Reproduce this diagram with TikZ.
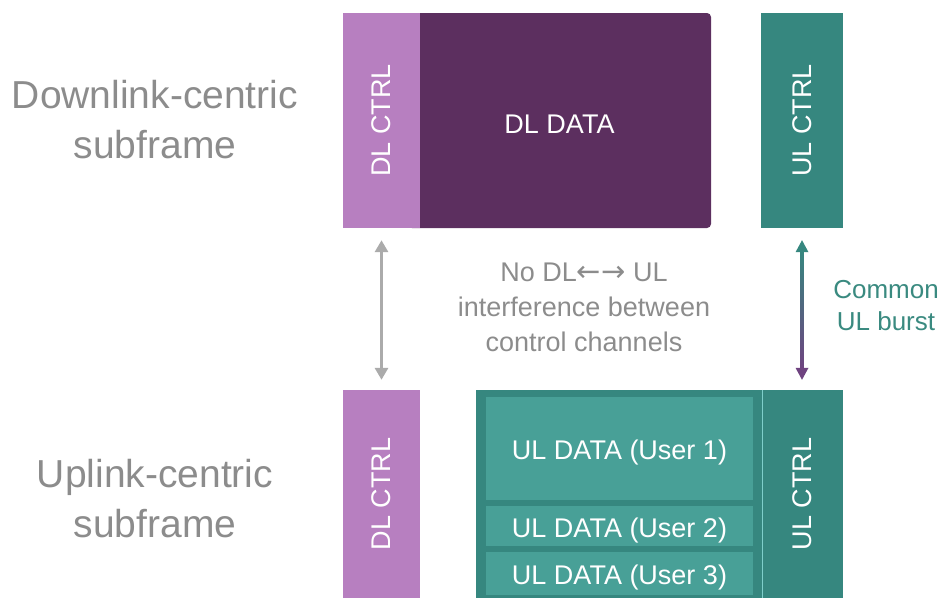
\documentclass[tikz,border=0pt]{standalone}
\usepackage{fontspec}
\setmainfont{Liberation Sans}
\newfontfamily\arrowfont{DejaVu Sans}
\usetikzlibrary{arrows.meta}
\definecolor{dlctrl}{HTML}{B77FC0}
\definecolor{dldata}{HTML}{5C2F5F}
\definecolor{ulctrl}{HTML}{36877F}
\definecolor{uldata}{HTML}{48A097}
\definecolor{ulline}{HTML}{7FCFCB}
\definecolor{txtgray}{HTML}{8C8C8C}
\definecolor{arrgray}{HTML}{ABABAB}
\definecolor{txtteal}{HTML}{3A8A80}
\definecolor{arrpurple}{HTML}{6F4380}
\newcommand{\lowtext}[1]{\raisebox{-4pt}[\height][\depth]{#1}}

\begin{document}
\begin{tikzpicture}[x=1pt, y=-1pt, >={Triangle[width=13pt,length=12pt]}]
    \tikzstyle{blk}=[rectangle,inner sep=0pt,text=white,font=\fontsize{27}{32}\selectfont]
    \tikzstyle{side}=[align=center,text=txtgray,font=\fontsize{39}{50}\selectfont]
    \useasboundingbox (0,0) rectangle (944,598);
    % downlink-centric subframe
    \node[blk,fill=dldata,rounded corners=4pt,minimum width=303pt,minimum height=215pt] (dldata) at (559.5,120.5) {\lowtext{DL DATA}};
    \node[blk,fill=dlctrl,minimum width=77pt,minimum height=215pt] (dlctrlA) at (381.5,120.5) {\rotatebox{90}{DL CTRL}};
    \node[blk,fill=ulctrl,minimum width=82pt,minimum height=215pt] (ulctrlA) at (802,120.5) {\rotatebox{90}{UL CTRL}};
    \node[side] (dltitle) at (155,120) {Downlink-centric\\subframe};
    % uplink-centric subframe
    \node[blk,fill=dlctrl,minimum width=77pt,minimum height=208pt] (dlctrlB) at (381.5,494) {\rotatebox{90}{DL CTRL}};
    \node[blk,fill=ulctrl,minimum width=367pt,minimum height=208pt] (ulblock) at (659.5,494) {};
    \node[blk,minimum width=81pt,minimum height=208pt] (ulctrlB) at (802.5,494) {\rotatebox{90}{UL CTRL}};
    \draw[ulline,line width=0.6pt] (ulctrlB.north west) -- (ulctrlB.south west);
    \node[blk,fill=uldata,minimum width=267pt,minimum height=103pt] (user1) at (619.5,448.5) {\lowtext{UL DATA (User 1)}};
    \node[blk,fill=uldata,minimum width=267pt,minimum height=40pt] (user2) at (619.5,526) {\lowtext{UL DATA (User 2)}};
    \node[blk,fill=uldata,minimum width=267pt,minimum height=43pt] (user3) at (619.5,573.5) {\lowtext{UL DATA (User 3)}};
    \node[side] (ultitle) at (155,499) {Uplink-centric\\subframe};
    % control channels
    \draw[<->,arrgray,line width=3.5pt,shorten <=12pt,shorten >=10pt] (dlctrlA) -- (dlctrlB);
    \node[align=center,text=txtgray,font=\fontsize{27}{35}\selectfont] (nointf) at (584,307) {No DL{\arrowfont\fontsize{29}{35}\selectfont ←→} UL\\interference between\\control channels};
    % common UL burst
    \coordinate (bursttop) at ([yshift=-12pt]ulctrlA.south);
    \coordinate (burstbot) at ([yshift=10pt]ulctrlA.south |- ulblock.north);
    \shade[top color=ulctrl,bottom color=arrpurple] ([xshift=-1.5pt,yshift=-10pt]bursttop) rectangle ([xshift=1.5pt,yshift=10pt]burstbot);
    \fill[ulctrl] (bursttop) -- ++(-6.5pt,-12pt) -- ++(13pt,0pt) -- cycle;
    \fill[arrpurple] (burstbot) -- ++(-6.5pt,12pt) -- ++(13pt,0pt) -- cycle;
    \node[align=center,text=txtteal,font=\fontsize{26}{32}\selectfont] (burst) at (886,306) {Common\\UL burst};
\end{tikzpicture}
\end{document}
